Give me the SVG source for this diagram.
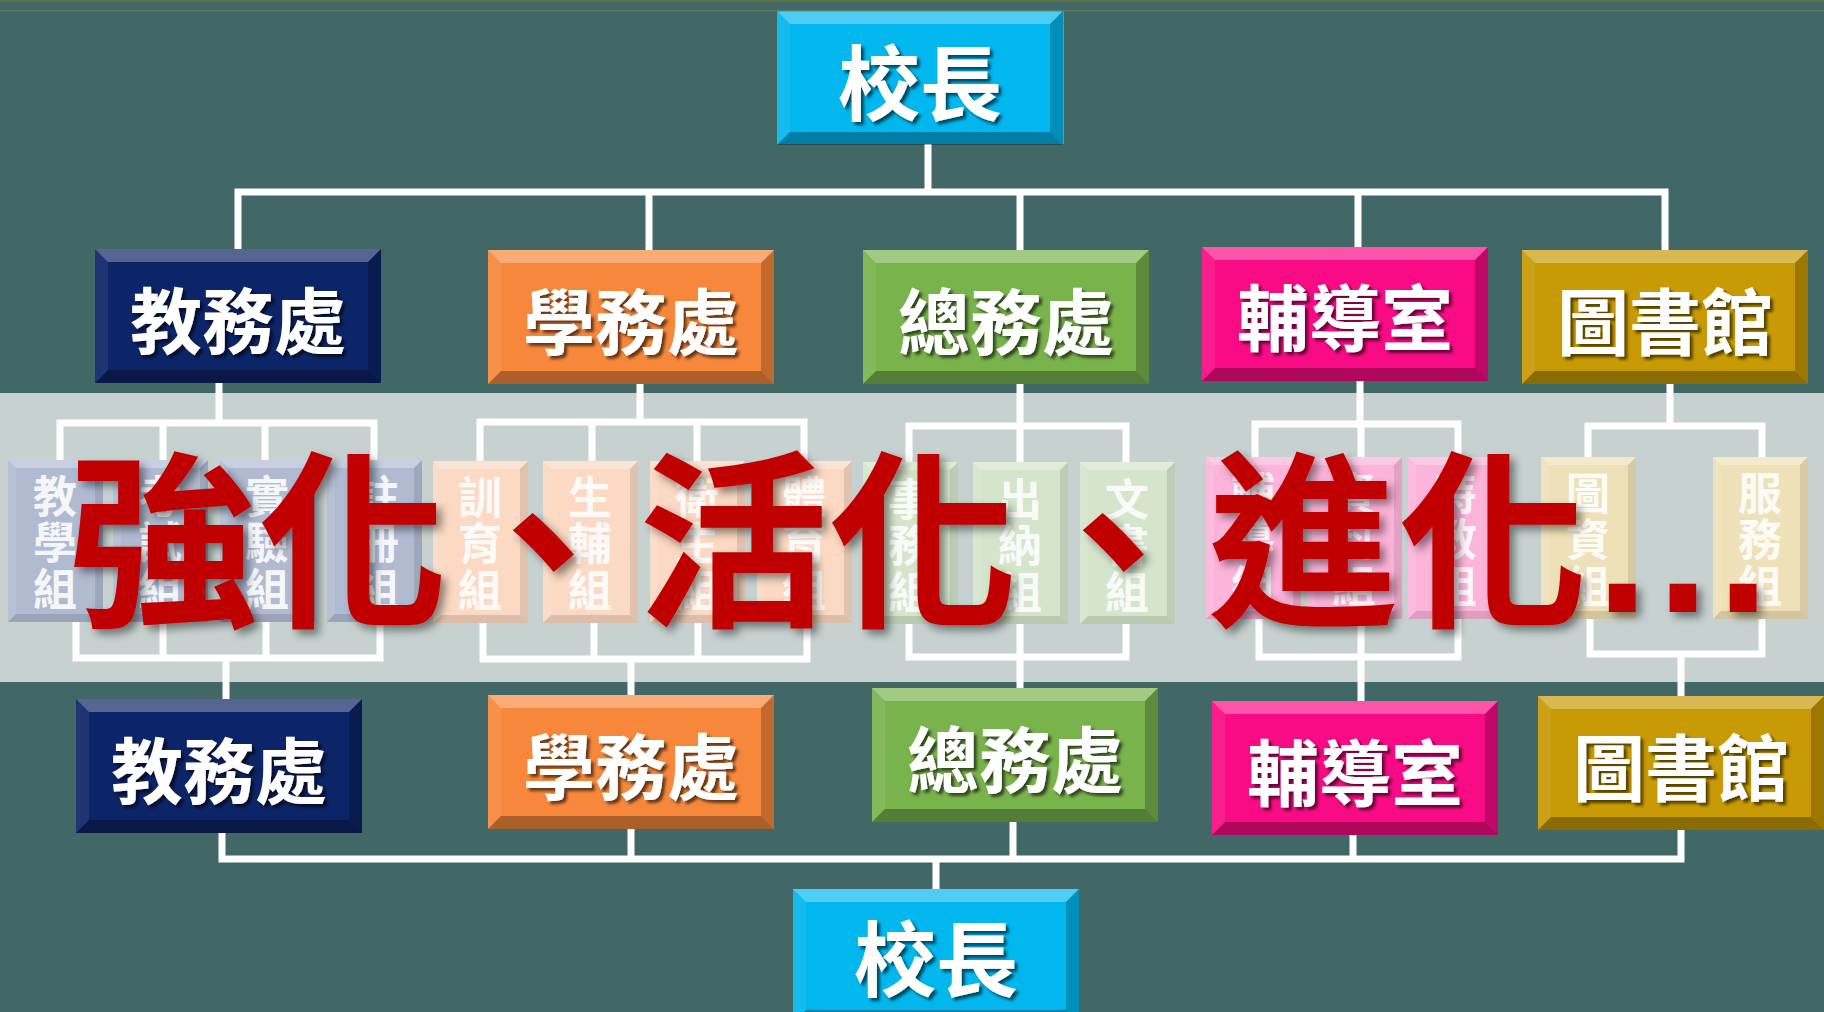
<svg xmlns="http://www.w3.org/2000/svg" xmlns:xlink="http://www.w3.org/1999/xlink" width="1824" height="1012" viewBox="0 0 1824 1012">
<style>
.ln{stroke:#fff;stroke-width:7;fill:none;stroke-linecap:square;stroke-linejoin:miter}
.dt{font-family:"Noto Sans CJK TC","Noto Sans CJK SC",sans-serif;font-weight:700;font-size:72px;fill:#fff;text-anchor:middle;dominant-baseline:central;filter:url(#ts)}
.bt{font-size:82px}
.st{font-family:"Noto Sans CJK TC","Noto Sans CJK SC",sans-serif;font-weight:700;font-size:44px;fill:#fff;fill-opacity:.9;text-anchor:middle;dominant-baseline:central}
.big{font-family:"Noto Sans CJK TC","Noto Sans CJK SC",sans-serif;font-weight:700;font-size:190px;fill:#c00000;filter:url(#rs)}
</style>
<defs>
<filter id="ts" x="-10%" y="-10%" width="130%" height="130%"><feDropShadow dx="3" dy="3" stdDeviation="1.5" flood-color="#000" flood-opacity=".6"/></filter>
<filter id="rs" x="-5%" y="-10%" width="115%" height="130%"><feDropShadow dx="5" dy="5" stdDeviation="4" flood-color="#000" flood-opacity=".45"/></filter>
<g id="bv">
<polygon points="0,0 286,0 273,13 13,13" fill="#fff" fill-opacity=".3"/>
<polygon points="0,134 286,134 273,121 13,121" fill="#000" fill-opacity=".3"/>
<polygon points="0,0 13,13 13,121 0,134" fill="#fff" fill-opacity=".08"/>
<polygon points="286,0 273,13 273,121 286,134" fill="#000" fill-opacity=".22"/>
</g>
<g id="bs">
<polygon points="0,0 95,0 87,8 8,8" fill="#fff" fill-opacity=".3"/>
<polygon points="0,162 95,162 87,154 8,154" fill="#000" fill-opacity=".12"/>
<polygon points="0,0 8,8 8,154 0,162" fill="#fff" fill-opacity=".1"/>
<polygon points="95,0 87,8 87,154 95,162" fill="#000" fill-opacity=".1"/>
</g>
</defs>
<rect width="1824" height="1012" fill="#416766"/>
<rect y="0" width="1824" height="2" fill="#5f6f3e"/>
<rect y="10" width="1824" height="1.5" fill="#5a7a5e"/>
<rect y="393" width="1824" height="289" fill="#c6d1d0"/>

<g id="connectors">
<path class="ln" d="M928 144V192M238 192H1665M238 192V249M649 192V250M1020 192V250M1358 192V247M1665 192V250"/>
<path class="ln" d="M219 383V423M60 423H374M60 423V460M163 423V460M265 423V460M374 423V460M76 622V658H380V622M163 622V658M266 622V658M226 658V699"/>
<path class="ln" d="M640 383V422M480 422H804M480 422V461M592 422V461M697 422V461M804 422V461M483 622V659H807V622M594 622V659M698 622V659M631 659V696"/>
<path class="ln" d="M1020 383V426M909 426H1126M909 426V462M1020 426V462M1126 426V462M909 625V657H1126V625M1020 625V688"/>
<path class="ln" d="M1360 380V424M1255 424H1458M1255 424V457M1361 424V457M1458 424V457M1259 620V657H1458V620M1361 620V701"/>
<path class="ln" d="M1670 383V426M1588 426H1762M1588 426V457M1762 426V457M1590 618V654H1762V618M1681 654V696"/>
<path class="ln" d="M222 833V859M631 828V859M1013 821V859M1353 834V859M1681 829V859M222 859H1681M936 859V889"/>
</g>

<g id="top-principal"><rect x="777" y="12" width="287" height="132" fill="#02b6ee"/><use href="#bv" x="777" y="11"/><text class="dt bt" x="920" y="78">校長</text></g>
<g id="jiaowu"><rect x="95" y="249" width="286" height="134" fill="#0c2468"/><use href="#bv" x="95" y="249"/><text class="dt" x="238" y="316">教務處</text></g>
<g id="xuewu"><rect x="488" y="250" width="286" height="134" fill="#f7883b"/><use href="#bv" x="488" y="250"/><text class="dt" x="631" y="317">學務處</text></g>
<g id="zongwu"><rect x="863" y="250" width="286" height="134" fill="#79b34c"/><use href="#bv" x="863" y="250"/><text class="dt" x="1006" y="317">總務處</text></g>
<g id="fudao"><rect x="1202" y="247" width="286" height="134" fill="#f90b85"/><use href="#bv" x="1202" y="247"/><text class="dt" x="1345" y="313">輔導室</text></g>
<g id="tushu"><rect x="1522" y="250" width="286" height="134" fill="#c89a05"/><use href="#bv" x="1522" y="250"/><text class="dt" x="1665" y="317">圖書館</text></g>

<g id="subs-jiaowu">
<g id="s1"><rect x="8" y="460" width="95" height="162" fill="#b0bbd2"/><use href="#bs" x="8" y="460"/><text class="st"><tspan x="55" y="494">教</tspan><tspan x="55" y="540">學</tspan><tspan x="55" y="587">組</tspan></text></g>
<g id="s2"><rect x="113" y="460" width="95" height="162" fill="#b0bbd2"/><use href="#bs" x="113" y="460"/><text class="st"><tspan x="160" y="494">考</tspan><tspan x="160" y="540">試</tspan><tspan x="160" y="587">組</tspan></text></g>
<g id="s3"><rect x="220" y="460" width="95" height="162" fill="#b0bbd2"/><use href="#bs" x="220" y="460"/><text class="st"><tspan x="267" y="494">實</tspan><tspan x="267" y="540">驗</tspan><tspan x="267" y="587">組</tspan></text></g>
<g id="s4"><rect x="327" y="460" width="95" height="162" fill="#b0bbd2"/><use href="#bs" x="327" y="460"/><text class="st"><tspan x="377" y="494">註</tspan><tspan x="377" y="540">冊</tspan><tspan x="377" y="587">組</tspan></text></g>
</g>
<g id="subs-xuewu">
<g id="s5"><rect x="433" y="461" width="95" height="162" fill="#fbd9c2"/><use href="#bs" x="433" y="461"/><text class="st"><tspan x="480" y="495">訓</tspan><tspan x="480" y="541">育</tspan><tspan x="480" y="588">組</tspan></text></g>
<g id="s6"><rect x="543" y="461" width="95" height="162" fill="#fbd9c2"/><use href="#bs" x="543" y="461"/><text class="st"><tspan x="590" y="495">生</tspan><tspan x="590" y="541">輔</tspan><tspan x="590" y="588">組</tspan></text></g>
<g id="s7"><rect x="650" y="461" width="95" height="162" fill="#fbd9c2"/><use href="#bs" x="650" y="461"/><text class="st"><tspan x="697" y="495">衛</tspan><tspan x="697" y="541">生</tspan><tspan x="697" y="588">組</tspan></text></g>
<g id="s8"><rect x="757" y="461" width="95" height="162" fill="#fbd9c2"/><use href="#bs" x="757" y="461"/><text class="st"><tspan x="804" y="495">體</tspan><tspan x="804" y="541">育</tspan><tspan x="804" y="588">組</tspan></text></g>
</g>
<g id="subs-zongwu">
<g id="s9"><rect x="863" y="462" width="95" height="162" fill="#d4e5cb"/><use href="#bs" x="863" y="462"/><text class="st"><tspan x="910" y="497">事</tspan><tspan x="910" y="543">務</tspan><tspan x="910" y="590">組</tspan></text></g>
<g id="s10"><rect x="973" y="462" width="95" height="162" fill="#d4e5cb"/><use href="#bs" x="973" y="462"/><text class="st"><tspan x="1020" y="497">出</tspan><tspan x="1020" y="543">納</tspan><tspan x="1020" y="590">組</tspan></text></g>
<g id="s11"><rect x="1080" y="462" width="95" height="162" fill="#d4e5cb"/><use href="#bs" x="1080" y="462"/><text class="st"><tspan x="1127" y="497">文</tspan><tspan x="1127" y="543">書</tspan><tspan x="1127" y="590">組</tspan></text></g>
</g>
<g id="subs-fudao">
<g id="s12"><rect x="1206" y="457" width="95" height="162" fill="#fdb4da"/><use href="#bs" x="1206" y="457"/><text class="st"><tspan x="1253" y="491">輔</tspan><tspan x="1253" y="537">導</tspan><tspan x="1253" y="584">組</tspan></text></g>
<g id="s13"><rect x="1307" y="457" width="95" height="162" fill="#fdb4da"/><use href="#bs" x="1307" y="457"/><text class="st"><tspan x="1354" y="491">資</tspan><tspan x="1354" y="537">料</tspan><tspan x="1354" y="584">組</tspan></text></g>
<g id="s14"><rect x="1408" y="457" width="95" height="162" fill="#fdb4da"/><use href="#bs" x="1408" y="457"/><text class="st"><tspan x="1455" y="491">特</tspan><tspan x="1455" y="537">教</tspan><tspan x="1455" y="584">組</tspan></text></g>
</g>
<g id="subs-tushu">
<g id="s15"><rect x="1541" y="457" width="95" height="162" fill="#efe1b7"/><use href="#bs" x="1541" y="457"/><text class="st"><tspan x="1588" y="491">圖</tspan><tspan x="1588" y="537">資</tspan><tspan x="1588" y="584">組</tspan></text></g>
<g id="s16"><rect x="1713" y="457" width="95" height="162" fill="#efe1b7"/><use href="#bs" x="1713" y="457"/><text class="st"><tspan x="1760" y="491">服</tspan><tspan x="1760" y="537">務</tspan><tspan x="1760" y="584">組</tspan></text></g>
</g>

<g id="jiaowu-2"><rect x="76" y="699" width="286" height="134" fill="#0c2468"/><use href="#bv" x="76" y="699"/><text class="dt" x="219" y="766">教務處</text></g>
<g id="xuewu-2"><rect x="488" y="695" width="286" height="134" fill="#f7883b"/><use href="#bv" x="488" y="695"/><text class="dt" x="631" y="762">學務處</text></g>
<g id="zongwu-2"><rect x="872" y="688" width="286" height="134" fill="#79b34c"/><use href="#bv" x="872" y="688"/><text class="dt" x="1015" y="755">總務處</text></g>
<g id="fudao-2"><rect x="1212" y="701" width="286" height="134" fill="#f90b85"/><use href="#bv" x="1212" y="701"/><text class="dt" x="1355" y="768">輔導室</text></g>
<g id="tushu-2"><rect x="1538" y="696" width="286" height="134" fill="#c89a05"/><use href="#bv" x="1538" y="696"/><text class="dt" x="1681" y="763">圖書館</text></g>
<g id="bottom-principal"><rect x="793" y="889" width="286" height="134" fill="#02b6ee"/><use href="#bv" x="793" y="889"/><text class="dt bt" x="936" y="954">校長</text></g>

<g id="slogan"><text class="big" x="68" y="612">強化、活化、進化<tspan font-family="Liberation Sans, sans-serif">…</tspan></text></g>
</svg>
